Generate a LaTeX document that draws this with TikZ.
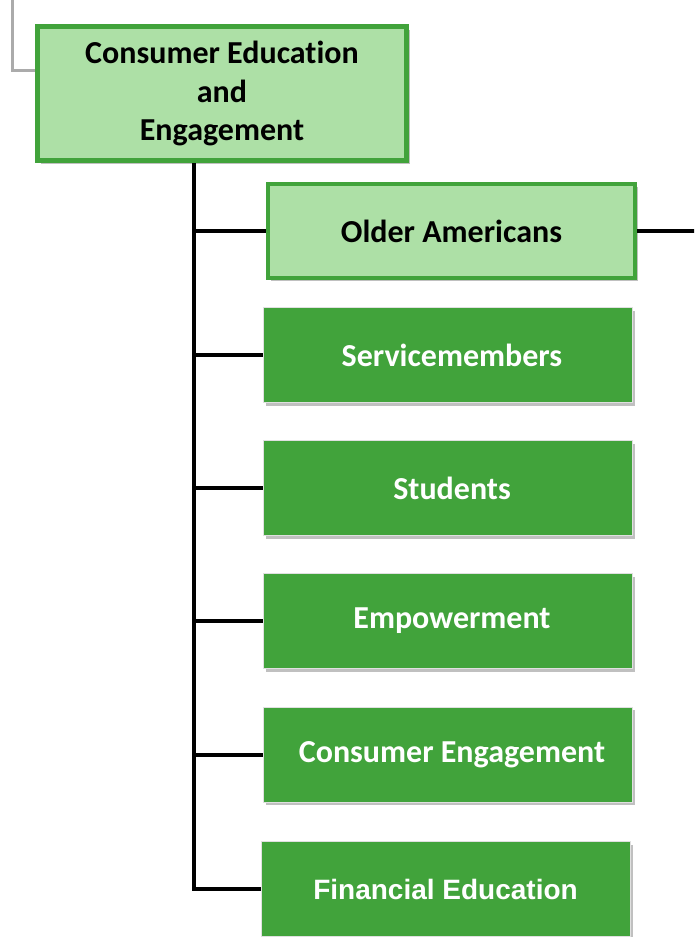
\documentclass[tikz,border=0pt]{standalone}
\usepackage{fontspec}
\setmainfont[Ligatures=NoCommon]{Carlito}
\newfontfamily\arialbold{Liberation Sans}
\usetikzlibrary{shadows}
\definecolor{darkgreen}{HTML}{41A33B}
\definecolor{lightgreen}{HTML}{ADE0A6}
\definecolor{greyline}{HTML}{ABABAB}
\tikzset{
  boxshadow/.style={drop shadow={shadow xshift=3pt,shadow yshift=-3pt,fill=black!55,opacity=0.45}},
  headbox/.style={draw=darkgreen,line width=5pt,fill=lightgreen,boxshadow,
    minimum width=369pt,minimum height=134pt,align=center,inner sep=0pt,
    font=\fontsize{32}{38.5}\selectfont\bfseries,text=black},
  leadbox/.style={draw=darkgreen,line width=4pt,fill=lightgreen,boxshadow,
    minimum width=367pt,minimum height=94pt,inner sep=0pt,
    font=\fontsize{32}{38}\selectfont\bfseries,text=black},
  unitbox/.style={draw=black!12,line width=0.8pt,fill=darkgreen,boxshadow,
    minimum width=369pt,minimum height=95pt,inner sep=0pt,
    font=\fontsize{32}{38}\selectfont\bfseries,text=white},
  rightset/.style={execute at begin node={\hspace*{9pt}}},
  trunkline/.style={line width=4pt,black},
  branchline/.style={line width=4pt,black},
  upline/.style={line width=3pt,greyline}
}
\begin{document}
\begin{tikzpicture}[x=1pt,y=-1pt]
\useasboundingbox (0,0) rectangle (694,937);
\clip (0,0) rectangle (694,937);
% link up to the parent level
\coordinate (upfree) at (12,-2);
\coordinate (upcorner) at (12,70);
\node[headbox] (head) at (222,93.5) {Consumer Education\\and\\Engagement};
\draw[upline] (upfree) -- (upcorner) -- (upcorner -| head.west);
% sub-units
\node[leadbox] (older) at (451.5,231) {Older Americans};
\node[unitbox,rightset] (svc) at (447.5,355) {Servicemembers};
\node[unitbox,rightset] (stu) at (447.5,488) {Students};
\node[unitbox,rightset] (emp) at (447.5,621) {Empowerment};
\node[unitbox,rightset] (eng) at (447.5,754.5) {Consumer Engagement};
\node[unitbox] (fin) at (445.5,889) {\arialbold\fontsize{28}{34}\selectfont\bfseries Financial Education};
% trunk and branches
\coordinate (trunktop) at (194,163);
\coordinate (trunkbot) at (194,889);
\draw[trunkline] (trunktop) -- (trunkbot);
\foreach \n in {older,svc,stu,emp,eng,fin}
  \draw[branchline] (\n.west -| trunktop) ++(-2,0) -- (\n.west);
\coordinate (olderout) at (696,231);
\draw[branchline] (older.east) -- (olderout);
\end{tikzpicture}
\end{document}
